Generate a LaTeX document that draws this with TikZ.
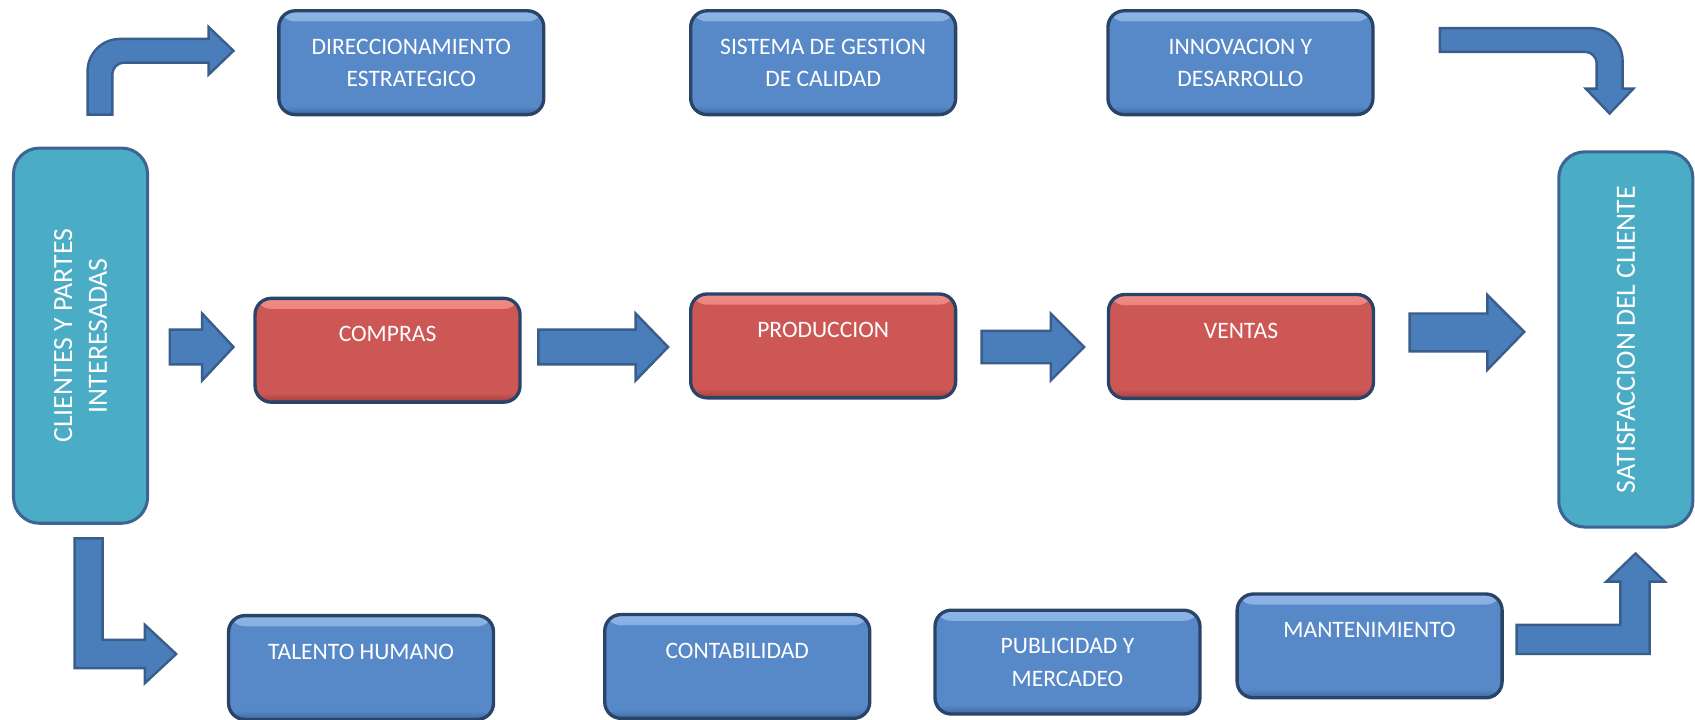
\documentclass[tikz,border=0pt]{standalone}
\usepackage{fontspec}
\setmainfont{Carlito}
\definecolor{boxblue}{HTML}{5789C9}
\definecolor{boxbluehl}{HTML}{8DB4E6}
\definecolor{boxbluedk}{HTML}{3F6AA3}
\definecolor{boxred}{HTML}{CD5755}
\definecolor{boxredhl}{HTML}{F08A86}
\definecolor{boxreddk}{HTML}{A33E3C}
\definecolor{boxcyan}{HTML}{4BACC6}
\definecolor{boxedge}{HTML}{2A4468}
\definecolor{sideedge}{HTML}{3C6593}
\definecolor{arrowfill}{HTML}{4A7EBB}
\definecolor{arrowedge}{HTML}{395E8C}
\newcommand{\boxlbl}[1]{\parbox[c][68.3pt][t]{174.3pt}{\centering\vspace*{18.6pt}#1\par}}
\tikzset{
  procbox/.style={rounded corners=10.7pt, line width=2.2pt, draw=boxedge, inner sep=0pt,
    text=white, font=\fontsize{15.5}{21.3}\selectfont, minimum width=174.3pt, minimum height=68.3pt},
  bevel/.style n args={3}{fill=#1, path picture={
      \shade[top color=#2, bottom color=#1]
        (path picture bounding box.north west) rectangle ([yshift=-7pt]path picture bounding box.north east);
      \shade[top color=#1, bottom color=#3]
        ([yshift=6pt]path picture bounding box.south west) rectangle (path picture bounding box.south east);}},
  bluebox/.style={procbox, bevel={boxblue}{boxbluehl}{boxbluedk}},
  redbox/.style={procbox, bevel={boxred}{boxredhl}{boxreddk}},
  sidebox/.style={rounded corners=17pt, line width=2pt, draw=sideedge, fill=boxcyan, text=white,
    rotate=90, minimum width=246.8pt, minimum height=88.2pt, align=center, inner sep=0pt,
    font=\fontsize{18.3}{22.8}\selectfont},
  blockarrow/.style={fill=arrowfill, draw=arrowedge, line width=1.6pt, line join=miter}
}
\begin{document}
\begin{tikzpicture}[x=0.025cm, y=-0.025cm]
\useasboundingbox (0,0) rectangle (1568,666);

% side boxes
\node[sidebox] (clientes) at (74.5,310.5) {CLIENTES Y PARTES\\INTERESADAS};
\node[sidebox] (satisf) at (1504,314) {SATISFACCION DEL CLIENTE};

% top row
\node[bluebox] (dir) at (380.5,58) {\boxlbl{DIRECCIONAMIENTO\\ESTRATEGICO}};
\node[bluebox] (sgc) at (761.5,58) {\boxlbl{SISTEMA DE GESTION\\DE CALIDAD}};
\node[bluebox] (inn) at (1147.5,58) {\boxlbl{INNOVACION Y\\DESARROLLO}};

% middle row
\node[redbox] (compras) at (358.5,324) {\boxlbl{COMPRAS}};
\node[redbox] (prod) at (761.5,320) {\boxlbl{PRODUCCION}};
\node[redbox] (ventas) at (1148,320.5) {\boxlbl{VENTAS}};

% bottom row
\node[bluebox] (talento) at (334,617.5) {\boxlbl{TALENTO HUMANO}};
\node[bluebox] (contab) at (682,616.5) {\boxlbl{CONTABILIDAD}};
\node[bluebox] (public) at (987.5,612.5) {\boxlbl{PUBLICIDAD Y\\MERCADEO}};
\node[bluebox] (mant) at (1267,597.5) {\boxlbl{MANTENIMIENTO}};

% straight block arrows (middle row)
\draw[blockarrow] (157,305) -- (187,305) -- (187,290) -- (216,321) -- (187,352) -- (187,337) -- (157,337) -- cycle;
\draw[blockarrow] (498,305) -- (588,305) -- (588,290) -- (618,321) -- (588,352) -- (588,337) -- (498,337) -- cycle;
\draw[blockarrow] (908,306) -- (972,306) -- (972,290) -- (1003,321) -- (972,352) -- (972,336) -- (908,336) -- cycle;
\draw[blockarrow] (1304,290) -- (1376,290) -- (1376,273) -- (1410,307) -- (1376,342) -- (1376,325) -- (1304,325) -- cycle;

% bent arrows
\draw[blockarrow] (81,106) -- (81,66) .. controls (81,49.4) and (94.4,36) .. (111,36) -- (193,36) -- (193,25)
  -- (216,47) -- (193,69) -- (193,58) -- (114,58) .. controls (108.5,58) and (104,63.5) .. (104,68) -- (104,106) -- cycle;
\draw[blockarrow] (1332,26) -- (1471,26) .. controls (1487.6,26) and (1501,39.4) .. (1501,56) -- (1501,82) -- (1511,82)
  -- (1489,105) -- (1467,82) -- (1477,82) -- (1477,58) .. controls (1477,52.5) and (1471.5,48) .. (1467,48) -- (1332,48) -- cycle;
\draw[blockarrow] (69,498) -- (95,498) -- (95,592) -- (134,592) -- (134,578) -- (163,605) -- (134,632) -- (134,618) -- (69,618) -- cycle;
\draw[blockarrow] (1403,578) -- (1499,578) -- (1499,538) -- (1486,538) -- (1513,512) -- (1540,538) -- (1526,538) -- (1526,605) -- (1403,605) -- cycle;
\end{tikzpicture}
\end{document}
